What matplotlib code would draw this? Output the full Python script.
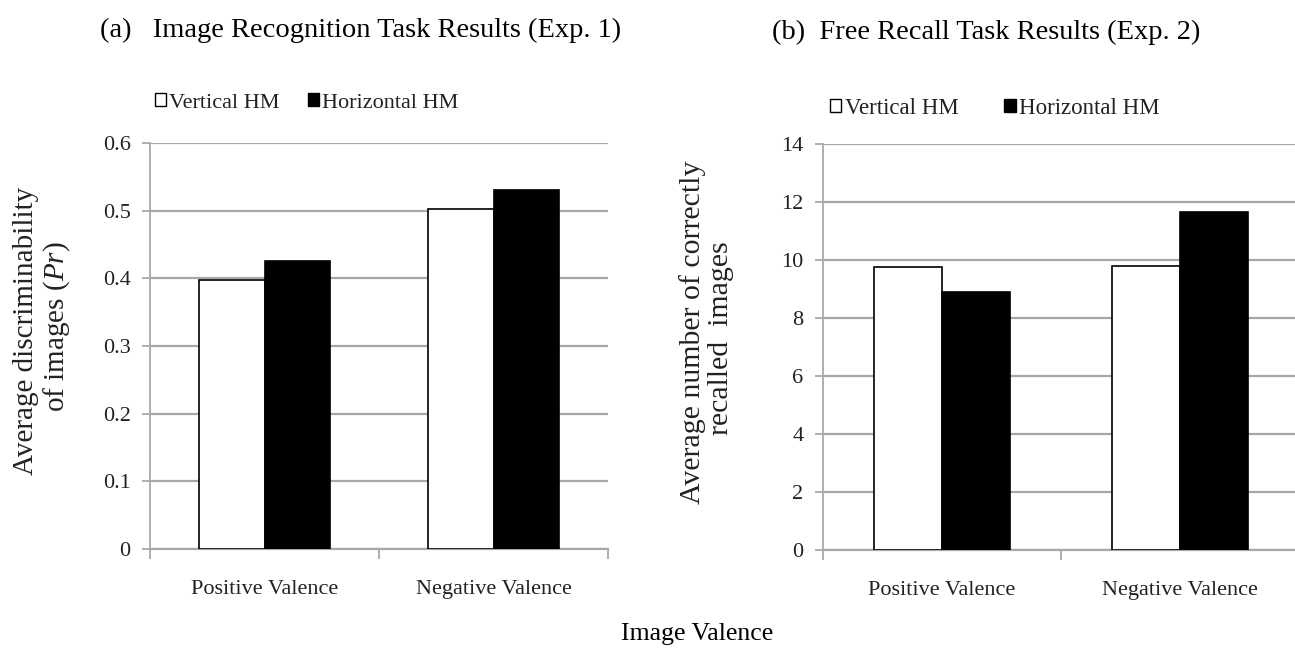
import matplotlib
matplotlib.use("Agg")
import matplotlib.pyplot as plt
from matplotlib.patches import Rectangle
import numpy as np

plt.rcParams['font.family'] = ['Liberation Serif', 'DejaVu Serif']
plt.rcParams['mathtext.fontset'] = 'custom'
plt.rcParams['mathtext.rm'] = 'Liberation Serif'
plt.rcParams['mathtext.it'] = 'Liberation Serif:italic'

categories = ["Positive Valence", "Negative Valence"]
series_names = ["Vertical HM", "Horizontal HM"]
exp1_vertical = [0.398, 0.503]
exp1_horizontal = [0.426, 0.530]
exp2_vertical = [9.75, 9.78]
exp2_horizontal = [8.90, 11.66]
exp1_ticks = [0, 0.1, 0.2, 0.3, 0.4, 0.5, 0.6]
exp1_ticklabels = ["0", "0.1", "0.2", "0.3", "0.4", "0.5", "0.6"]
exp2_ticks = [0, 2, 4, 6, 8, 10, 12, 14]

W, H = 1295, 652
fig = plt.figure(figsize=(W / 100, H / 100), dpi=100)

def fx(px):
    return px / W

def fy(py):
    return 1 - py / H

grid_c = '#a8a8a8'
txt_c = '#222222'

def setup(ax, ticks, ticklabels, ymax):
    x = np.arange(len(categories))
    ax.set_xlim(-0.5, len(categories) - 0.5)
    ax.set_ylim(0, ymax)
    ax.set_yticks(ticks)
    ax.set_yticklabels(ticklabels, fontsize=16, color=txt_c)
    ax.yaxis.grid(True, color=grid_c, linewidth=1.6)
    ax.set_axisbelow(True)
    for s in ['top', 'right']:
        ax.spines[s].set_visible(False)
    ax.spines['left'].set_color(grid_c)
    ax.spines['bottom'].set_color(grid_c)
    ax.spines['left'].set_linewidth(1.3)
    ax.spines['bottom'].set_linewidth(1.6)
    ax.tick_params(axis='y', length=6, color=grid_c, width=1.3, pad=8)
    ax.set_xticks(x)
    ax.set_xticklabels(categories, fontsize=16, color=txt_c)
    ax.tick_params(axis='x', which='major', length=0, pad=22)
    ax.set_xticks(np.arange(len(categories) + 1) - 0.5, minor=True)
    ax.tick_params(axis='x', which='minor', length=7, color=grid_c, width=1.3)
    return x

bw = 0.285

# Panel (a)
ax1 = fig.add_axes([fx(150), fy(549), fx(608 - 150), (549 - 143) / H])
x = setup(ax1, exp1_ticks, exp1_ticklabels, 0.6)
ax1.bar(x - bw / 2, exp1_vertical, bw, color='white', edgecolor='black', linewidth=1.2, zorder=3)
ax1.bar(x + bw / 2, exp1_horizontal, bw, color='black', edgecolor='black', linewidth=1.2, zorder=3)

# Panel (b)
ax2 = fig.add_axes([fx(823), fy(550), fx(1299 - 823), (550 - 144) / H])
x = setup(ax2, exp2_ticks, [str(t) for t in exp2_ticks], 14)
ax2.bar(x - bw / 2, exp2_vertical, bw, color='white', edgecolor='black', linewidth=1.2, zorder=3)
ax2.bar(x + bw / 2, exp2_horizontal, bw, color='black', edgecolor='black', linewidth=1.2, zorder=3)

# Titles
fig.text(fx(100), fy(30), "(a)   Image Recognition Task Results (Exp. 1)", fontsize=20.5,
         va='center', ha='left', color='black')
fig.text(fx(772), fy(32), "(b)  Free Recall Task Results (Exp. 2)", fontsize=20.5,
         va='center', ha='left', color='black')

# Y labels
fig.text(fx(26), fy(331), "Average discriminability", rotation=90, fontsize=21,
         va='center', ha='center', color=txt_c)
fig.text(fx(57), fy(327), "of images ($\\it{Pr}$)", rotation=90, fontsize=21,
         va='center', ha='center', color=txt_c)
fig.text(fx(693), fy(332), "Average number of correctly", rotation=90, fontsize=21.5,
         va='center', ha='center', color=txt_c)
fig.text(fx(721), fy(338), "recalled  images", rotation=90, fontsize=21.5,
         va='center', ha='center', color=txt_c)

# Common x label
fig.text(fx(697), fy(634), "Image Valence", fontsize=18.5, va='center', ha='center', color='black')

# Legends
handles = [Rectangle((0, 0), 1, 1, facecolor='white', edgecolor='black', linewidth=1.0),
           Rectangle((0, 0), 1, 1, facecolor='black', edgecolor='black', linewidth=1.0)]
for (px, py, cs, fs) in [(155, 103, 1.25, 16), (830, 108, 2.0, 16.5)]:
    fig.legend(handles, series_names, loc='center left', bbox_to_anchor=(fx(px), fy(py)),
               ncol=2, frameon=False, fontsize=fs, handlelength=0.5, handleheight=0.5,
               handletextpad=0.15, columnspacing=cs, borderpad=0, borderaxespad=0,
               labelcolor=txt_c)

fig.savefig("out.png", dpi=100)
